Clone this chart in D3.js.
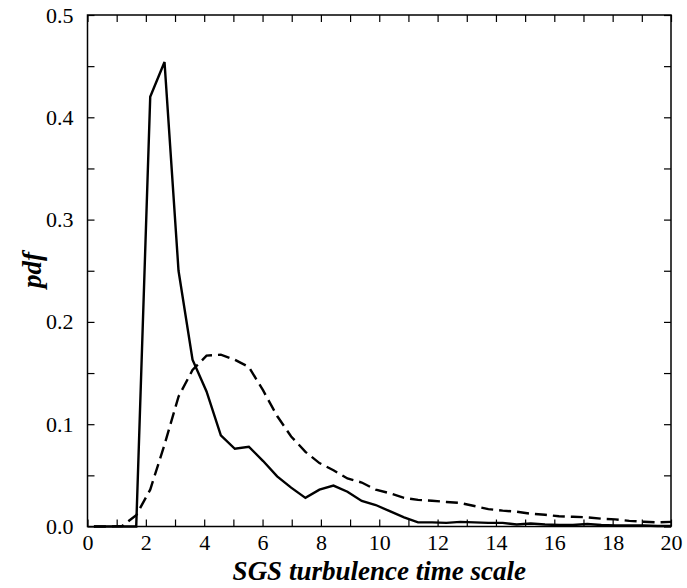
<!DOCTYPE html>
<html>
<head>
<meta charset="utf-8">
<script src="https://cdn.jsdelivr.net/npm/d3@7"></script>
</head>
<body style="margin:0;background:#fff">
<div id="chart"></div>
<script>
// bin centres of the histogram (SGS turbulence time scale)
var binCenters = [0.22, 0.70, 1.19, 1.67, 2.15, 2.64, 3.12, 3.60, 4.08, 4.57,
  5.05, 5.53, 6.02, 6.50, 6.98, 7.47, 7.95, 8.43, 8.91, 9.40,
  9.88, 10.36, 10.85, 11.33, 11.81, 12.30, 12.78, 13.26, 13.74, 14.23,
  14.71, 15.19, 15.68, 16.16, 16.64, 17.13, 17.61, 18.09, 18.57, 19.06,
  19.54, 20.0];

// solid curve
var pdfSolid = [0, 0, 0, 0, 0.420, 0.454, 0.250, 0.163, 0.132, 0.089,
  0.076, 0.078, 0.064, 0.049, 0.038, 0.028, 0.036, 0.040, 0.034, 0.025,
  0.021, 0.015, 0.009, 0.004, 0.004, 0.0035, 0.0045, 0.004, 0.0035, 0.0035,
  0.002, 0.003, 0.002, 0.0015, 0.0015, 0.0025, 0.0015, 0.001, 0.001, 0.001,
  0.0005, 0.0005];

// dashed curve
var pdfDashed = [0, 0, 0.0005, 0.011, 0.036, 0.080, 0.127, 0.153, 0.167, 0.168,
  0.163, 0.156, 0.133, 0.108, 0.088, 0.073, 0.062, 0.055, 0.047, 0.043,
  0.036, 0.0325, 0.028, 0.026, 0.0252, 0.024, 0.023, 0.020, 0.017, 0.0155,
  0.0145, 0.0125, 0.0115, 0.010, 0.0095, 0.009, 0.0076, 0.007, 0.0055, 0.0047,
  0.004, 0.0045];

var xTicks = [0, 2, 4, 6, 8, 10, 12, 14, 16, 18, 20];
var yTicks = [0.0, 0.1, 0.2, 0.3, 0.4, 0.5];

var fontName = "Liberation Serif, Times New Roman, serif";
var width = 687, height = 588;
var margin = { top: 15, right: 16, bottom: 61.5, left: 87.5 };
var w = width - margin.left - margin.right;
var h = height - margin.top - margin.bottom;

var svg = d3.select("#chart")
  .append("svg")
  .attr("width", width)
  .attr("height", height)
  .style("font-family", fontName);

var g = svg.append("g")
  .attr("transform", "translate(" + margin.left + "," + margin.top + ")");

var x = d3.scaleLinear().domain([0, 20]).range([0, w]);
var y = d3.scaleLinear().domain([0, 0.5]).range([h, 0]);

// ticks inward on all four sides
var xMinor = d3.range(0, 21, 1);
var yMinor = d3.range(0, 0.501, 0.05);

function tickAxis(axis) {
  return function (sel) {
    sel.call(axis);
    sel.select(".domain").remove();
    sel.selectAll("line").attr("stroke", "#000").attr("stroke-width", 1.2);
  };
}

g.append("g").attr("transform", "translate(0," + h + ")")
  .call(tickAxis(d3.axisTop(x).tickValues(xMinor).tickSize(7).tickFormat("")));
g.append("g")
  .call(tickAxis(d3.axisBottom(x).tickValues(xMinor).tickSize(7).tickFormat("")));
g.append("g")
  .call(tickAxis(d3.axisRight(y).tickValues(yMinor).tickSize(7).tickFormat("")));
g.append("g").attr("transform", "translate(" + w + ",0)")
  .call(tickAxis(d3.axisLeft(y).tickValues(yMinor).tickSize(7).tickFormat("")));

// tick labels
g.append("g").attr("transform", "translate(0," + h + ")")
  .call(d3.axisBottom(x).tickValues(xTicks).tickSize(0).tickPadding(8).tickFormat(d3.format("d")))
  .call(function (s) {
    s.select(".domain").remove();
    s.attr("font-family", fontName).attr("font-size", 22);
    s.selectAll("text").attr("dy", "0.71em").attr("fill", "#000");
  });

g.append("g")
  .call(d3.axisLeft(y).tickValues(yTicks).tickSize(0).tickPadding(14).tickFormat(d3.format(".1f")))
  .call(function (s) {
    s.select(".domain").remove();
    s.attr("font-family", fontName).attr("font-size", 22);
    s.selectAll("text").attr("fill", "#000");
  });

// frame
g.append("rect")
  .attr("width", w)
  .attr("height", h)
  .attr("fill", "none")
  .attr("stroke", "#000")
  .attr("stroke-width", 1.5);

var line = function (vals) {
  return d3.line()
    .x(function (d, i) { return x(binCenters[i]); })
    .y(function (d) { return y(d); })(vals);
};

g.append("path")
  .attr("d", line(pdfDashed))
  .attr("fill", "none")
  .attr("stroke", "#000")
  .attr("stroke-width", 2.4)
  .style("stroke-dasharray", "12, 6");

g.append("path")
  .attr("d", line(pdfSolid))
  .attr("fill", "none")
  .attr("stroke", "#000")
  .attr("stroke-width", 2.4)
  .attr("stroke-linejoin", "miter");

// axis titles
svg.append("text")
  .attr("x", margin.left + w / 2)
  .attr("y", 580)
  .attr("text-anchor", "middle")
  .attr("font-family", fontName)
  .attr("font-size", 27)
  .attr("font-weight", "bold")
  .attr("font-style", "italic")
  .text("SGS turbulence time scale");

svg.append("text")
  .attr("transform", "translate(41,270) rotate(-90)")
  .attr("text-anchor", "middle")
  .attr("font-family", fontName)
  .attr("font-size", 27)
  .attr("font-weight", "bold")
  .attr("font-style", "italic")
  .text("pdf");
</script>
</body>
</html>
